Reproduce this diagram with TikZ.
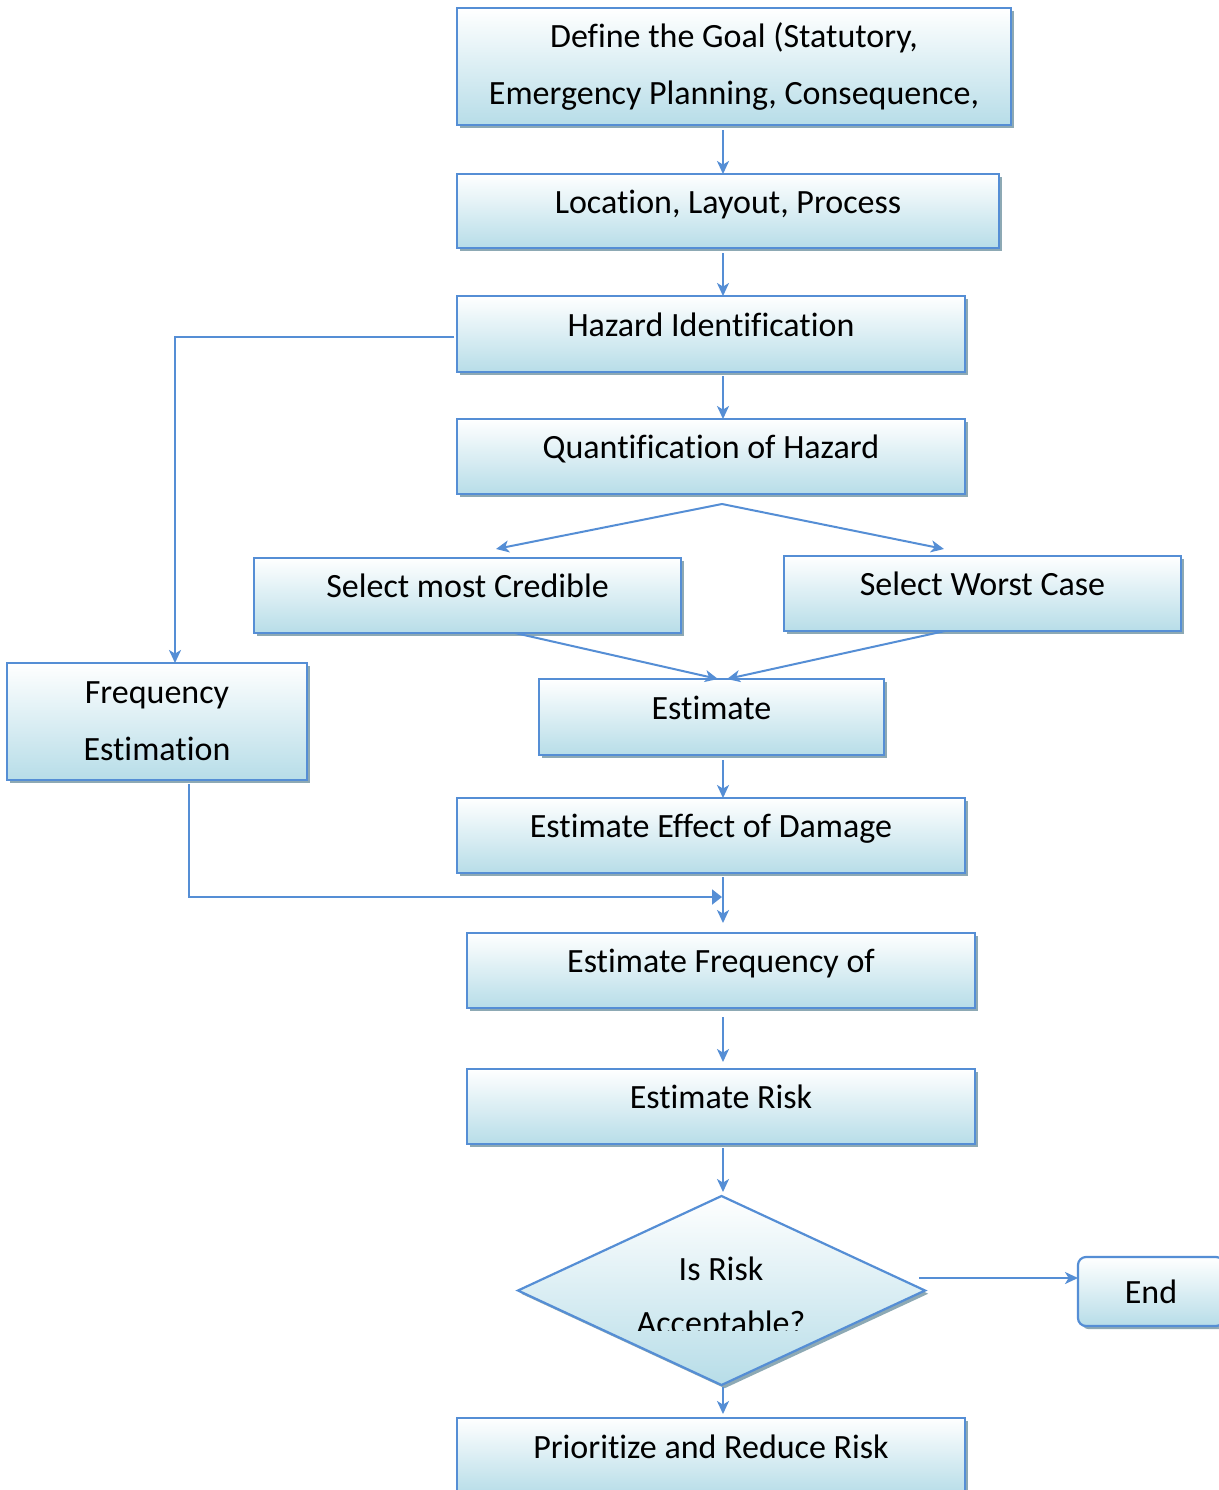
\documentclass[tikz,border=0pt]{standalone}
\usepackage{fontspec}
\setmainfont[Ligatures={NoCommon}]{Carlito}
\usetikzlibrary{shapes.geometric,shadows,arrows.meta}
\definecolor{edgeblue}{HTML}{558ED5}
\definecolor{fillblue}{HTML}{B7DDE8}
\definecolor{shadowgray}{HTML}{8DA9B4}

\begin{document}
\begin{tikzpicture}[x=0.5pt,y=-0.5pt,
  box/.style={draw=edgeblue, line width=1.1pt, top color=white, bottom color=fillblue,
    drop shadow={shadow xshift=1.6pt, shadow yshift=-1.6pt, fill=shadowgray, opacity=1},
    inner sep=0pt, outer sep=0pt, align=center,
    font=\fontsize{17}{28.5}\selectfont},
  onebox/.style={box, text height=11pt, text depth=8.6pt},
  conn/.style={draw=edgeblue, line width=1pt, -{Stealth[length=6.5pt,width=6pt,inset=1.8pt]}},
  joinarrow/.style={draw=edgeblue, line width=1pt, -{Triangle[length=5pt,width=7.5pt]}}
]
\clip (0,0) rectangle (1219,1490);
\fill[white] (0,0) rectangle (1219,1490);

% main column of steps
\node[box, minimum width=277pt, minimum height=58.5pt] (goal) at (734,66.5)
  {Define the Goal (Statutory,\\Emergency Planning, Consequence,};
\node[onebox, minimum width=271pt, minimum height=37pt] (loc) at (728,211) {Location, Layout, Process};
\node[onebox, minimum width=254pt, minimum height=38pt] (hazid) at (711,334) {Hazard Identification};
\node[onebox, minimum width=254pt, minimum height=37.5pt] (quant) at (711,456.5) {Quantification of Hazard};
\node[onebox, minimum width=213.5pt, minimum height=37.5pt] (cred) at (467.5,595.5) {Select most Credible};
\node[onebox, minimum width=198.5pt, minimum height=37.5pt] (worst) at (982.5,593.5) {Select Worst Case};
\node[onebox, minimum width=172.5pt, minimum height=38pt] (est) at (711.5,717) {Estimate};
\node[onebox, minimum width=254pt, minimum height=37.5pt] (effect) at (711,835.5) {Estimate Effect of Damage};
\node[box, minimum width=150pt, minimum height=58.5pt] (freqest) at (157,721.5) {Frequency\\Estimation};
\node[onebox, minimum width=254pt, minimum height=37.5pt] (freqof) at (721,970.5) {Estimate Frequency of};
\node[onebox, minimum width=254pt, minimum height=37.5pt] (risk) at (721,1106.5) {Estimate Risk};
\node[box, diamond, minimum width=203.5pt, minimum height=94.5pt] (accept) at (721.5,1290.5) {};
\begin{scope}
  \clip (500,1190) rectangle (940,1330);
  \node[align=center, font=\fontsize{17}{27}\selectfont, inner sep=0pt] (acceptText) at (721,1298)
    {Is Risk\\Acceptable?};
\end{scope}
\node[box, rounded corners=4pt, minimum width=73pt, minimum height=34.5pt] (endn) at (1151,1291.5) {End};
\node[onebox, minimum width=254pt, minimum height=38pt] (prio) at (711,1456) {Prioritize and Reduce Risk};

% connector anchor points
\coordinate (spine) at (723,0);
\coordinate (split) at (722,504);
\coordinate (credIn) at (496,549);
\coordinate (worstIn) at (944,549);
\coordinate (credOut) at (515,633);
\coordinate (worstOut) at (945,631);
\coordinate (estInL) at (718,679);
\coordinate (estInR) at (727,679);
\coordinate (hazOut) at (454,337);
\coordinate (freqIn) at (175,663);
\coordinate (freqOut) at (189,784);
\coordinate (joinPt) at (722,897);
\coordinate (acceptOut) at (919,1278);

% connectors
\draw[conn, shorten <=2.5pt] (goal.south -| spine) -- (loc.north -| spine);
\draw[conn, shorten <=2.5pt] (loc.south -| spine) -- (hazid.north -| spine);
\draw[conn, shorten <=2pt] (hazid.south -| spine) -- (quant.north -| spine);
\draw[conn] (split) -- (credIn);
\draw[conn] (split) -- (worstIn);
\draw[conn] (credOut) -- (estInL);
\draw[conn] (worstOut) -- (estInR);
\draw[conn, shorten <=2.5pt] (est.south -| spine) -- (effect.north -| spine);
\draw[conn, shorten <=2pt, shorten >=5pt] (effect.south -| spine) -- (freqof.north -| spine);
\draw[conn] (hazOut) -| (freqIn);
\draw[joinarrow] (freqOut) |- (joinPt);
\draw[conn, shorten <=4.5pt, shorten >=3.5pt] (freqof.south -| spine) -- (risk.north -| spine);
\draw[conn, shorten <=2pt, shorten >=2pt] (risk.south -| spine) -- (accept.north -| spine);
\draw[conn, shorten <=1pt, shorten >=2pt] (accept.south -| spine) -- (prio.north -| spine);
\draw[conn] (acceptOut) -- (acceptOut -| endn.west);
\end{tikzpicture}
\end{document}
